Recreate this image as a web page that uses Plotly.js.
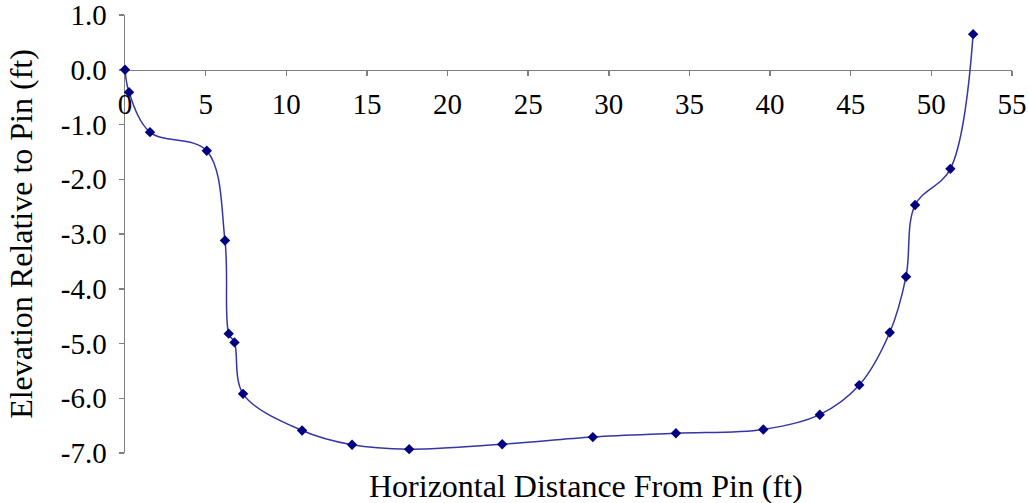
<!DOCTYPE html>
<html>
<head>
<meta charset="utf-8">
<script src="https://cdn.plot.ly/plotly-3.0.1.min.js"></script>
<style>html,body{margin:0;padding:0;background:#fff;}#chart{width:1029px;height:503px;}</style>
</head>
<body>
<div id="chart"></div>
<script>
const distance = [0, 0.25, 1.55, 5.07, 6.2, 6.43, 6.79, 7.32, 10.98, 14.08, 17.62, 23.39, 29.01, 34.16, 39.58, 43.08, 45.53, 47.42, 48.43, 48.99, 51.18, 52.59];
const elevation = [0, -0.41, -1.14, -1.48, -3.12, -4.82, -4.98, -5.92, -6.59, -6.85, -6.93, -6.84, -6.71, -6.64, -6.57, -6.30, -5.76, -4.80, -3.78, -2.47, -1.81, 0.65];
const xTicks = [0, 5, 10, 15, 20, 25, 30, 35, 40, 45, 50, 55];
const yTicks = [1, 0, -1, -2, -3, -4, -5, -6, -7];
const xTitle = "Horizontal Distance From Pin (ft)";
const yTitle = "Elevation Relative to Pin (ft)";

const font = "Liberation Serif";

const trace = {
  x: distance, y: elevation, type: "scatter", mode: "lines+markers",
  line: {color: "#3535a5", width: 1.5, shape: "spline", smoothing: 1},
  marker: {symbol: "diamond", size: 8, color: "#000080"},
  cliponaxis: false,
  hoverinfo: "x+y"
};

const layout = {
  width: 1029, height: 503,
  margin: {l: 125, r: 17, t: 15, b: 50},
  paper_bgcolor: "#fff", plot_bgcolor: "#fff",
  showlegend: false,
  font: {family: font, color: "#000", size: 29},
  xaxis: {
    range: [0, 55], anchor: "free", position: 0.875, layer: "below traces",
    tickvals: xTicks, ticktext: xTicks.map(String),
    ticks: "outside", ticklen: 5, tickcolor: "#808080", tickwidth: 1.5,
    showline: true, linecolor: "#808080", linewidth: 1.5,
    showgrid: false, zeroline: false, ticklabelstandoff: 3,
    ticklabeloverflow: "allow",
    tickfont: {family: font, size: 29, color: "#000"}
  },
  yaxis: {
    range: [-7, 1], layer: "below traces",
    tickvals: yTicks, ticktext: yTicks.map(v => v.toFixed(1)),
    ticks: "outside", ticklen: 5, tickcolor: "#808080", tickwidth: 1.5,
    showline: true, linecolor: "#808080", linewidth: 1.5,
    showgrid: false, zeroline: false, ticklabelstandoff: 6,
    ticklabeloverflow: "allow",
    tickfont: {family: font, size: 29, color: "#000"},
    title: {text: yTitle, font: {family: font, size: 32, color: "#000"}, standoff: 18}
  },
  annotations: [{
    text: xTitle, xref: "paper", yref: "paper", x: 0.52, y: -0.075,
    xanchor: "center", yanchor: "middle", showarrow: false,
    font: {family: font, size: 32, color: "#000"}
  }]
};

Plotly.newPlot("chart", [trace], layout, {displayModeBar: false, staticPlot: true});
</script>
</body>
</html>
